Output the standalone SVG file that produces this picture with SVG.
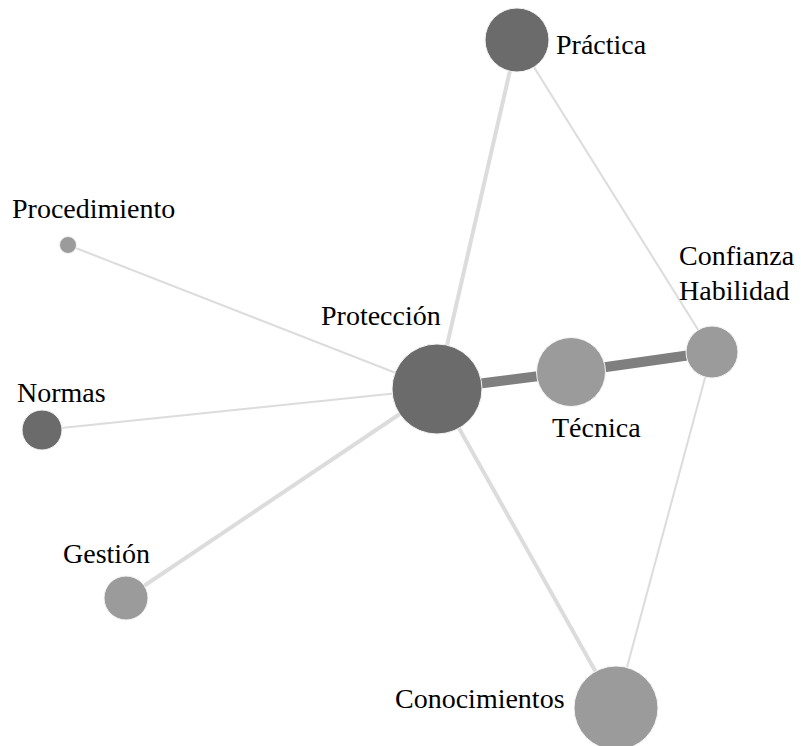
<svg xmlns="http://www.w3.org/2000/svg" width="801" height="746" viewBox="0 0 801 746">
<style>
.e{stroke:#dcdcdc;fill:none;stroke-linecap:round}
.thin{stroke-width:2}
.med{stroke-width:4}
.thick{stroke:#7f7f7f;stroke-width:10}
.dark{fill:#6b6b6b;stroke:#f4f4f4;stroke-width:1}
.light{fill:#9b9b9b;stroke:#f4f4f4;stroke-width:1}
text{font-family:"Liberation Serif","Times New Roman",serif;font-size:28px;fill:#000}
</style>
<rect width="801" height="746" fill="#fff"/>
<g id="connectors">
<line class="e med" x1="437" y1="389" x2="517" y2="40"/>
<line class="e thin" x1="517" y1="40" x2="712" y2="352"/>
<line class="e thin" x1="68" y1="245" x2="437" y2="389"/>
<line class="e thin" x1="42" y1="430" x2="437" y2="389"/>
<line class="e med" x1="126" y1="598" x2="437" y2="389"/>
<line class="e med" x1="437" y1="389" x2="616" y2="708"/>
<line class="e thin" x1="712" y1="352" x2="616" y2="708"/>
<line class="e thick" x1="437" y1="389" x2="571" y2="372"/>
<line class="e thick" x1="571" y1="372" x2="712" y2="352"/>
</g>
<g id="practica"><circle class="dark" cx="517" cy="40" r="32"/><text x="556" y="54">Práctica</text></g>
<g id="procedimiento"><circle class="light" cx="68" cy="245" r="8.5"/><text x="12" y="218">Procedimiento</text></g>
<g id="normas"><circle class="dark" cx="42" cy="430" r="20"/><text x="17" y="402">Normas</text></g>
<g id="gestion"><circle class="light" cx="126" cy="598" r="22"/><text x="63" y="563">Gestión</text></g>
<g id="proteccion"><circle class="dark" cx="437" cy="389" r="45"/><text x="321" y="325">Protección</text></g>
<g id="tecnica"><circle class="light" cx="571" cy="372" r="34.5"/><text x="552" y="437">Técnica</text></g>
<g id="confianza"><circle class="light" cx="712" cy="352" r="26"/><text x="679" y="265">Confianza</text><text x="679" y="300">Habilidad</text></g>
<g id="conocimientos"><circle class="light" cx="616" cy="708" r="42"/><text x="395" y="708">Conocimientos</text></g>
</svg>
